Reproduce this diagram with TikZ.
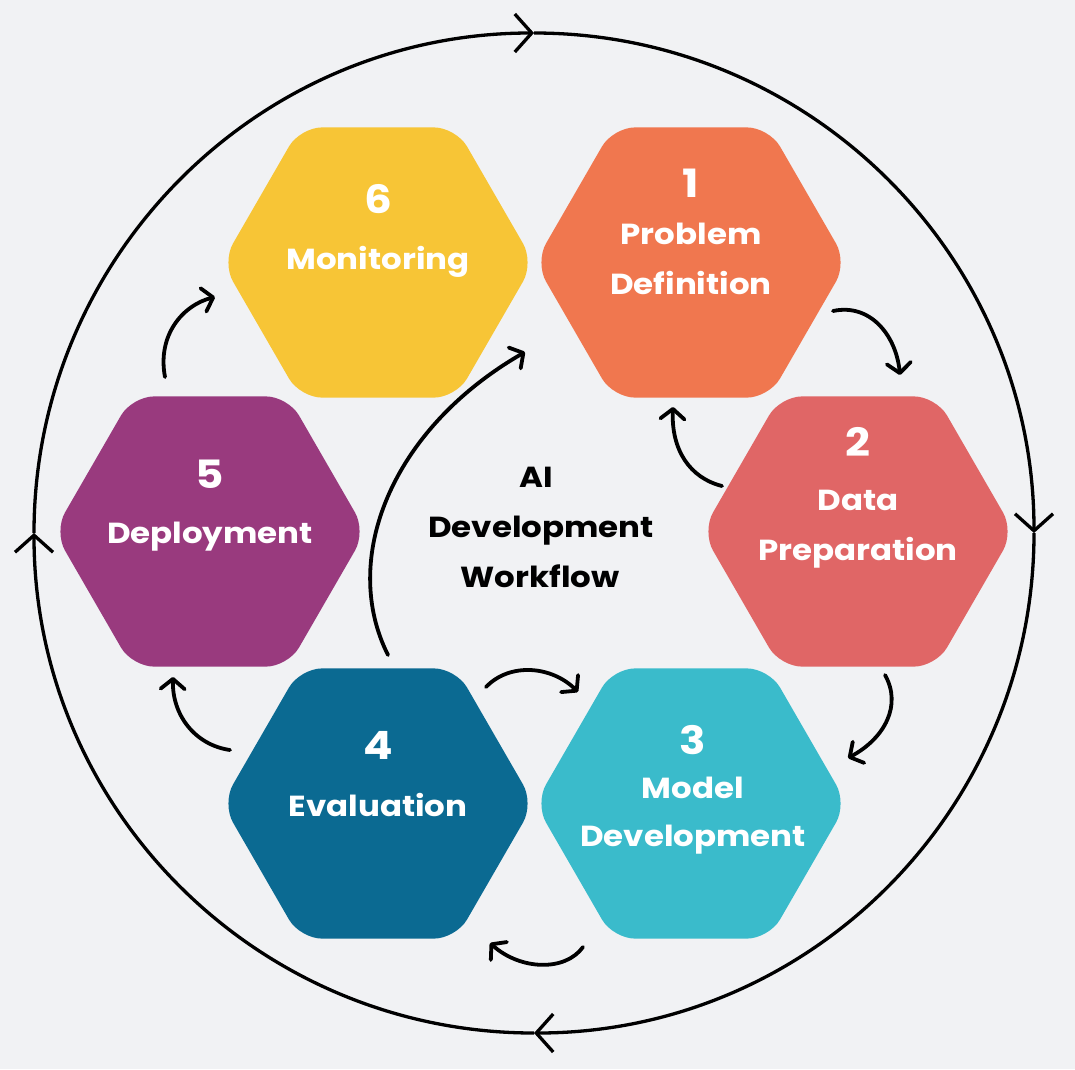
\documentclass[tikz,border=0pt]{standalone}
\usepackage{fontspec}
\setmainfont{Poppins}
\newfontfamily\wideface[FakeStretch=1.12]{Poppins}
\usetikzlibrary{arrows.meta,shapes.geometric}
\definecolor{bg}{HTML}{F1F2F4}
\definecolor{c1}{HTML}{F0774F}
\definecolor{c2}{HTML}{E06666}
\definecolor{c3}{HTML}{3ABBCB}
\definecolor{c4}{HTML}{0B6A92}
\definecolor{c5}{HTML}{993A7E}
\definecolor{c6}{HTML}{F7C536}
\begin{document}
\begin{tikzpicture}[x=1pt,y=-1pt,
  hex/.style={regular polygon, regular polygon sides=6, minimum size=312pt,
    inner sep=0pt, outer sep=0pt, rounded corners=22pt, draw=none},
  lbl/.style={text=white, anchor=base, inner sep=0pt, font=\wideface\bfseries\fontsize{29}{34}\selectfont},
  num/.style={text=white, anchor=base, inner sep=0pt, font=\wideface\bfseries\fontsize{39}{44}\selectfont},
  ctr/.style={text=black, anchor=base, inner sep=0pt, font=\wideface\bfseries\fontsize{29}{34}\selectfont},
  flow/.style={line width=3.8pt, line cap=round,
    -{Straight Barb[length=10pt,width=24pt,line width=3.8pt,round]}},
  ring/.style={line width=3.3pt,
    -{Straight Barb[length=17pt,width=38pt,line width=3.3pt]}}
]
\fill[bg] (0,0) rectangle (1075,1069);
\useasboundingbox (0,0) rectangle (1075,1069);

% outer cycle
\coordinate (oc) at (534,533);
\draw[ring] (34,533) arc[start angle=180,end angle=270,radius=500];
\draw[ring] (534,33) arc[start angle=270,end angle=360,radius=500];
\draw[ring] (1034,533) arc[start angle=0,end angle=90,radius=500];
\draw[ring] (534,1033) arc[start angle=90,end angle=180,radius=500];

% hexagons
\node[hex, fill=c1] (h1) at (691,262.5) {};
\node[hex, fill=c2] (h2) at (858,531.5) {};
\node[hex, fill=c3] (h3) at (691,803.5) {};
\node[hex, fill=c4] (h4) at (378,803.5) {};
\node[hex, fill=c5] (h5) at (210,531.5) {};
\node[hex, fill=c6] (h6) at (378,262.5) {};

% labels
\node[num] (n1) at (691,197) {1};
\node[lbl] (l1a) at (691,244) {Problem};
\node[lbl] (l1b) at (691,294) {Definition};

\node[num] (n2) at (858,456) {2};
\node[lbl] (l2a) at (858,510) {Data};
\node[lbl] (l2b) at (858,560) {Preparation};

\node[num] (n3) at (693,754) {3};
\node[lbl] (l3a) at (693,798) {Model};
\node[lbl] (l3b) at (693,846) {Development};

\node[num] (n4) at (378,759) {4};
\node[lbl] (l4a) at (378,816) {Evaluation};

\node[num] (n5) at (210,488) {5};
\node[lbl] (l5a) at (210,543) {Deployment};

\node[num] (n6) at (378,213) {6};
\node[lbl] (l6a) at (378,269) {Monitoring};

\node[ctr] (t1) at (536,487) {AI};
\node[ctr] (t2) at (541,537) {Development};
\node[ctr] (t3) at (540,587) {Workflow};

% connector end points
\coordinate (a1s) at (833,311); \coordinate (a1e) at (900,375);
\coordinate (a2s) at (722,486); \coordinate (a2e) at (673,407);
\coordinate (a3s) at (885,675); \coordinate (a3e) at (848,758);
\coordinate (a4s) at (486,687); \coordinate (a4e) at (578,692);
\coordinate (a5s) at (583,947); \coordinate (a5e) at (490,943);
\coordinate (a6s) at (230,750); \coordinate (a6e) at (173,677);
\coordinate (a7s) at (165,377); \coordinate (a7e) at (215,297);
\coordinate (a8s) at (388,655); \coordinate (a8e) at (525,352);

\draw[flow] (a1s) .. controls (870,303) and (896,335) .. (a1e);
\draw[flow] (a2s) .. controls (690,478) and (671,450) .. (a2e);
\draw[flow] (a3s) .. controls (902,705) and (885,738) .. (a3e);
\draw[flow] (a4s) .. controls (510,662) and (552,666) .. (a4e);
\draw[flow] (a5s) .. controls (565,972) and (520,970) .. (a5e);
\draw[flow] (a6s) .. controls (195,745) and (172,715) .. (a6e);
\draw[flow] (a7s) .. controls (157,335) and (183,305) .. (a7e);
\draw[flow] (a8s) .. controls (340,560) and (390,430) .. (a8e);
\end{tikzpicture}
\end{document}
